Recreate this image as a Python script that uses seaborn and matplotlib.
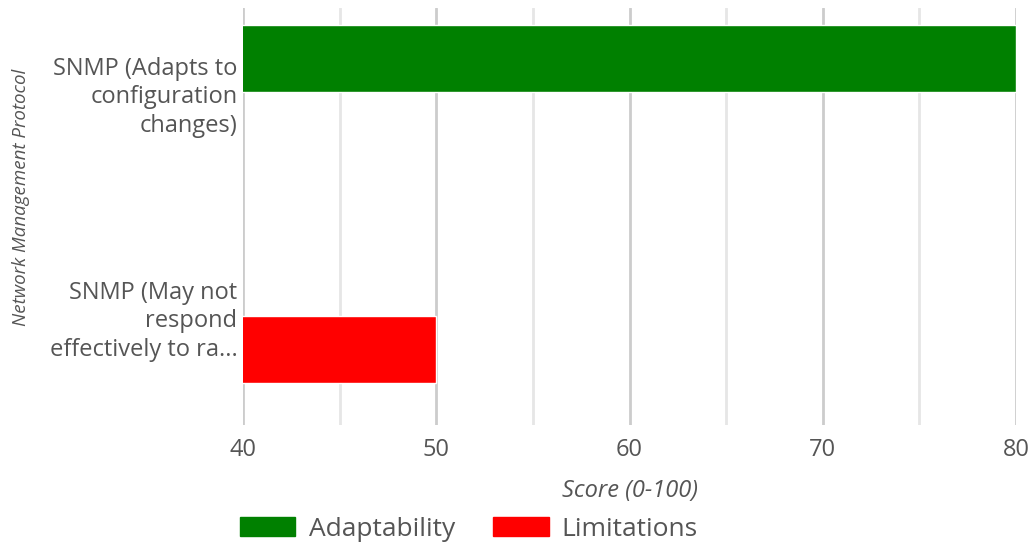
import matplotlib
matplotlib.use("Agg")
import matplotlib.pyplot as plt
from matplotlib.patches import Patch
import seaborn as sns
import pandas as pd
import numpy as np

categories = [
    "SNMP (Adapts to\nconfiguration\nchanges)",
    "SNMP (May not\nrespond\neffectively to ra...",
]
series = ["Adaptability", "Limitations"]
adaptability = [80, np.nan]
limitations = [np.nan, 50]
colors = {"Adaptability": "#008000", "Limitations": "#ff0000"}
x_ticks = [40, 50, 60, 70, 80]
x_minor = [45, 55, 65, 75]

rows = []
for cat, a, l in zip(categories, adaptability, limitations):
    rows.append({"protocol": cat, "series": "Adaptability", "score": a})
    rows.append({"protocol": cat, "series": "Limitations", "score": l})
df = pd.DataFrame(rows).dropna()

sns.set_theme(style="white")
plt.rcParams["font.family"] = ["Open Sans", "DejaVu Sans"]
text_color = "#555555"

W, H = 1035, 545
fig = plt.figure(figsize=(W / 100, H / 100), dpi=100)
ax = fig.add_axes([243 / W, 1 - 425 / H, (1016 - 243) / W, (425 - 8) / H])

sns.barplot(
    data=df, y="protocol", x="score", hue="series",
    order=categories, hue_order=series, palette=colors,
    orient="h", width=0.6, dodge=True, saturation=1,
    legend=False, ax=ax, zorder=3,
)

ax.set_xlim(40, 80)
ax.set_ylim(1 + 109 / 224, -84 / 224)
ax.set_xticks(x_ticks)
ax.set_xticks(x_minor, minor=True)
ax.grid(axis="x", which="major", color="#cccccc", linewidth=2, zorder=0)
ax.grid(axis="x", which="minor", color="#e6e6e6", linewidth=2, zorder=0)
ax.grid(axis="y", visible=False)
ax.set_axisbelow(True)
for s in ax.spines.values():
    s.set_visible(False)

ax.tick_params(axis="x", which="both", length=0, pad=9, labelsize=17, labelcolor=text_color)
ax.tick_params(axis="y", length=0, pad=4, labelsize=17, labelcolor=text_color)
for lbl in ax.get_yticklabels():
    lbl.set_horizontalalignment("right")
    lbl.set_multialignment("right")
    lbl.set_linespacing(1.25)

ax.set_xlabel("Score (0-100)", fontsize=17, style="italic", color=text_color)
ax.xaxis.set_label_coords(0.5, (425 - 491) / 417)
ax.xaxis.label.set_verticalalignment("center")
ax.set_ylabel("Network Management Protocol", fontsize=13.5, style="italic", color=text_color)
ax.yaxis.set_label_coords((21 - 243) / 773, (425 - 197) / 417)
ax.yaxis.label.set_verticalalignment("center")
ax.yaxis.label.set_horizontalalignment("center")

handles = [Patch(facecolor=colors[s], edgecolor=colors[s], label=s) for s in series]
fig.legend(
    handles=handles, loc="center left", bbox_to_anchor=(240 / W, 1 - 529 / H),
    ncol=2, frameon=False, fontsize=19, labelcolor=text_color,
    handlelength=2.1, handleheight=0.75, handletextpad=0.5, columnspacing=1.45,
    borderaxespad=0, borderpad=0,
)

fig.savefig("out.png", dpi=100)
